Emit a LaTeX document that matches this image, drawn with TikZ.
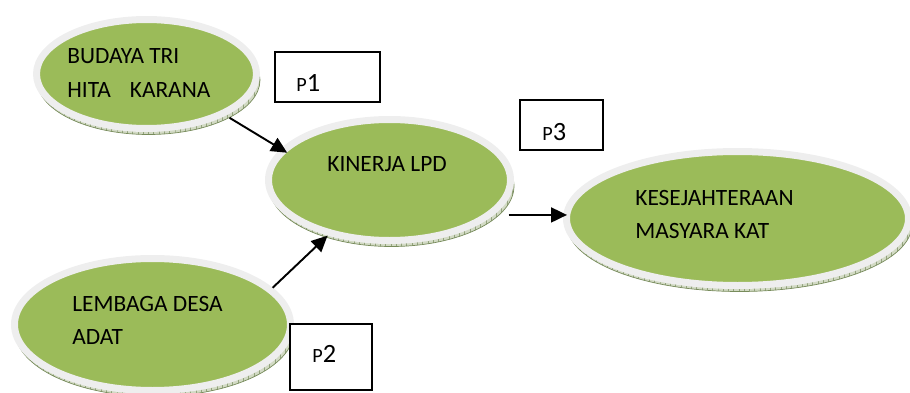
\documentclass[tikz,border=0pt]{standalone}
\usepackage{fontspec}
\setmainfont{Carlito}
\usetikzlibrary{shapes.geometric,patterns,arrows.meta}

\definecolor{olivefill}{RGB}{155,187,89}
\definecolor{ringgray}{RGB}{238,238,238}
\definecolor{rimfill}{RGB}{210,218,196}
\definecolor{rimline}{RGB}{120,140,92}

\begin{document}
\begin{tikzpicture}[
    disc/.style={ellipse, fill=olivefill, draw=ringgray, line width=0.14cm, inner sep=0pt},
    rim/.style={ellipse, draw=rimline, line width=0.4pt, preaction={fill=rimfill},
                pattern=vertical lines, pattern color=rimline!80, inner sep=0pt},
    lbl/.style={anchor=base west, inner sep=0pt, font=\fontsize{13.3}{16}\selectfont},
    plbl/.style={anchor=base west, inner sep=0pt, font=\fontsize{11.5}{14}\selectfont},
    pbox/.style={draw, fill=white, line width=0.8pt, inner sep=0pt},
    link/.style={line width=1.1pt, -{Triangle[length=0.32cm,width=0.3cm]}}
]

    % Рамка рисунка
    \useasboundingbox (0,0) rectangle (18.2,7.84);

    % Нижний край дисков (объём)
    \node[rim, minimum width=4.46cm, minimum height=2.18cm] (budayarim) at (2.97,6.24) {};
    \node[rim, minimum width=4.90cm, minimum height=2.42cm] (kinerjarim) at (7.83,4.12) {};
    \node[rim, minimum width=6.90cm, minimum height=2.68cm] (kesejahteraanrim) at (14.79,3.35) {};
    \node[rim, minimum width=5.58cm, minimum height=2.64cm] (lembagarim) at (3.09,1.23) {};

    % Зелёные диски
    \node[disc, minimum width=4.40cm, minimum height=2.18cm] (budaya) at (2.93,6.36) {};
    \node[disc, minimum width=4.84cm, minimum height=2.42cm] (kinerja) at (7.79,4.24) {};
    \node[disc, minimum width=6.84cm, minimum height=2.68cm] (kesejahteraan) at (14.75,3.47) {};
    \node[disc, minimum width=5.52cm, minimum height=2.64cm] (lembaga) at (3.05,1.35) {};

    % Подписи внутри дисков
    \node[lbl] (budayatxta) at (1.34,6.58) {BUDAYA TRI};
    \node[lbl] (budayatxtb) at (1.34,5.90) {HITA\hspace{0.38cm}KARANA};
    \node[lbl] (kinerjatxt) at (6.54,4.42) {KINERJA LPD};
    \node[lbl] (kesejahteraantxta) at (12.70,3.74) {KESEJAHTERAAN};
    \node[lbl] (kesejahteraantxtb) at (12.70,3.08) {MASYARA KAT};
    \node[lbl] (lembagatxta) at (1.44,1.62) {LEMBAGA DESA};
    \node[lbl] (lembagatxtb) at (1.44,0.96) {ADAT};

    % Стрелки
    \draw[link, shorten >=-0.15cm] (budayarim.-25) -- (kinerja.164);
    \draw[link, shorten >=-0.05cm] (lembaga.17) -- (kinerjarim.218);
    \draw[link, shorten <=0.18cm, shorten >=-0.08cm] (kinerjarim.-15) -- (kinerjarim.-15 -| kesejahteraan.west);

    % Рамки P1, P2, P3
    \node[pbox, minimum width=2.10cm, minimum height=1.00cm] (p1) at (6.55,6.30) {};
    \node[pbox, minimum width=1.66cm, minimum height=1.00cm] (p3) at (11.23,5.34) {};
    \node[pbox, minimum width=1.64cm, minimum height=1.32cm] (p2) at (6.62,0.70) {};
    \node[plbl] (p1lbl) at (5.92,6.02) {P{\fontsize{15}{18}\selectfont 1}};
    \node[plbl] (p3lbl) at (10.84,5.04) {P{\fontsize{15}{18}\selectfont 3}};
    \node[plbl] (p2lbl) at (6.24,0.60) {P{\fontsize{15}{18}\selectfont 2}};

\end{tikzpicture}
\end{document}
